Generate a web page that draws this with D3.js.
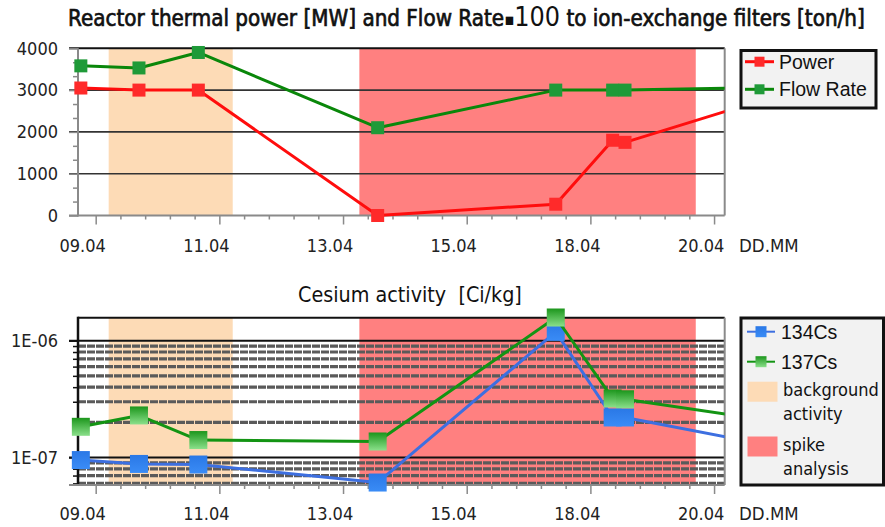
<!DOCTYPE html>
<html>
<head>
<meta charset="utf-8">
<script src="https://cdn.jsdelivr.net/npm/d3@7"></script>
<style>
  body { margin: 0; background: #fff; }
  svg { display: block; }
</style>
</head>
<body>
<svg id="chart" width="885" height="527"></svg>
<script>
// ---- data ----------------------------------------------------------------
// x positions are in axis units: one unit per labelled tick
const tickLabels = ["09.04", "11.04", "13.04", "15.04", "18.04", "20.04"];
const samplePos  = [-0.12, 0.35, 0.83, 2.28, 3.72, 4.18, 4.28, 5.3];
const power      = [3050, 3000, 3000, 0, 270, 1800, 1750, 2680];
const flowRate   = [3580, 3530, 3900, 2100, 3000, 3000, 3000, 3055];
const cs134      = [9.5e-8, 8.8e-8, 8.7e-8, 6.1e-8, 1.19e-6, 2.2e-7, 2.2e-7, 1.36e-7];
const cs137      = [1.83e-7, 2.29e-7, 1.41e-7, 1.37e-7, 1.58e-6, 3.2e-7, 3.15e-7, 2.18e-7];
const bandNames  = ["background activity", "spike analysis"];
const bandFrom   = [0.105, 2.132];
const bandTo     = [1.108, 4.852];
const powerTicks = [0, 1000, 2000, 3000, 4000];
const csTicks    = [1e-7, 1e-6];
const csTickLabels = ["1E-07", "1E-06"];

// ---- layout / style -------------------------------------------------------
const FONT = "'DejaVu Sans Condensed', 'DejaVu Sans', sans-serif";
const ARIAL = "'Liberation Sans', Arial, sans-serif";
const bandColors = ["#fddbb6", "#ff8080"];
const plotL = 78, plotR = 724.7;
const top1 = 48.3, bot1 = 215.5;
const top2 = 317.7, bot2 = 485;
const labelShift = -13.5;   // date labels sit a little left of their ticks

const svg = d3.select("#chart");
const defs = svg.append("defs");

const g137 = defs.append("linearGradient").attr("id", "grad137")
  .attr("x1", 0).attr("y1", 0).attr("x2", 0).attr("y2", 1);
g137.append("stop").attr("offset", "0%").attr("stop-color", "#1c961c");
g137.append("stop").attr("offset", "100%").attr("stop-color", "#8be08b");
const g134 = defs.append("linearGradient").attr("id", "grad134")
  .attr("x1", 0).attr("y1", 0).attr("x2", 0).attr("y2", 1);
g134.append("stop").attr("offset", "0%").attr("stop-color", "#2a78e6");
g134.append("stop").attr("offset", "100%").attr("stop-color", "#3a8cf6");

["clip1", "clip2"].forEach((id, i) => {
  const t = i === 0 ? top1 : top2, b = i === 0 ? bot1 : bot2;
  defs.append("clipPath").attr("id", id).append("rect")
    .attr("x", plotL).attr("y", t - 20).attr("width", plotR - plotL).attr("height", b - t + 40);
});

const x = d3.scaleLinear().domain([-0.143, 5.086]).range([plotL, plotR]);
const y1 = d3.scaleLinear().domain([0, 4000]).range([bot1, top1]);
const y2 = d3.scaleLog().domain([5.81e-8, 1.574e-6]).range([bot2, top2]);

const inDomain = v => v >= x.domain()[0] && v <= x.domain()[1];
const majorX = d3.range(tickLabels.length);
const minorX = d3.range(-1, tickLabels.length + 1, 0.2)
  .map(v => Math.round(v * 10) / 10)
  .filter(v => inDomain(v) && !Number.isInteger(v));

function fitText(sel, width) {
  const w = sel.node().getComputedTextLength();
  const fs = parseFloat(sel.attr("font-size"));
  sel.attr("font-size", fs * width / w);
}

// ---- shared pieces --------------------------------------------------------
function drawBands(g, t, b) {
  bandNames.forEach((n, i) => {
    g.append("rect")
      .attr("x", x(bandFrom[i])).attr("y", t)
      .attr("width", x(bandTo[i]) - x(bandFrom[i])).attr("height", b - t)
      .attr("fill", bandColors[i]);
  });
}

function drawXAxis(g, b, labelBaseline) {
  const minor = g.append("g").attr("transform", `translate(0,${b})`)
    .call(d3.axisBottom(x).tickValues(minorX).tickSize(4).tickFormat(""));
  const major = g.append("g").attr("transform", `translate(0,${b})`)
    .call(d3.axisBottom(x).tickValues(majorX).tickSize(9).tickFormat(i => tickLabels[i]));
  [minor, major].forEach(a => {
    a.select(".domain").remove();
    a.selectAll(".tick line").attr("stroke", "#8a8a8a").attr("stroke-width", 1.5);
  });
  major.selectAll(".tick text")
    .attr("font-family", FONT).attr("font-size", 18).attr("fill", "#222")
    .attr("dy", null).attr("x", labelShift).attr("y", labelBaseline - b);
  g.append("line").attr("x1", plotL - 9).attr("x2", plotR).attr("y1", b).attr("y2", b)
    .attr("stroke", "#8a8a8a").attr("stroke-width", 2);
  g.append("text").attr("x", 739).attr("y", labelBaseline)
    .attr("font-family", FONT).attr("font-size", 18.5).attr("fill", "#222")
    .text("DD.MM");
}

function drawSeries(g, clipId, yScale, vals, lineColor, lineW, markFill, markSize) {
  const pts = samplePos.map((p, i) => [p, vals[i]]);
  g.append("path")
    .attr("clip-path", `url(#${clipId})`)
    .attr("d", d3.line().x(d => x(d[0])).y(d => yScale(d[1]))(pts))
    .attr("fill", "none").attr("stroke", lineColor).attr("stroke-width", lineW)
    .attr("stroke-linejoin", "round");
  g.selectAll(null).data(pts.filter(d => inDomain(d[0]))).join("rect")
    .attr("x", d => x(d[0]) - markSize / 2).attr("y", d => yScale(d[1]) - markSize / 2)
    .attr("width", markSize).attr("height", markSize)
    .attr("fill", markFill);
}

// ---- top chart: reactor power and flow rate -------------------------------
const c1 = svg.append("g");
drawBands(c1, top1, bot1);

// horizontal grid lines
c1.selectAll(null).data(powerTicks.filter(v => v > 0)).join("line")
  .attr("x1", plotL - 9).attr("x2", plotR)
  .attr("y1", d => y1(d)).attr("y2", d => y1(d))
  .attr("stroke", d => d === 4000 ? "#111" : "#333").attr("stroke-width", d => d === 4000 ? 2 : 1.6);

// y axis
const y1Minor = d3.range(0, 4001, 1000 / 3).filter(v => powerTicks.indexOf(Math.round(v)) < 0);
const a1m = c1.append("g").attr("transform", `translate(${plotL},0)`)
  .call(d3.axisLeft(y1).tickValues(y1Minor).tickSize(5).tickFormat(""));
const a1 = c1.append("g").attr("transform", `translate(${plotL},0)`)
  .call(d3.axisLeft(y1).tickValues(powerTicks).tickSize(9).tickPadding(11).tickFormat(d3.format("d")));
[a1m, a1].forEach(a => {
  a.select(".domain").remove();
  a.selectAll(".tick line").attr("stroke", "#8a8a8a").attr("stroke-width", 1.5);
});
a1.selectAll(".tick text").attr("font-family", FONT).attr("font-size", 18).attr("fill", "#222");
c1.append("line").attr("x1", plotL).attr("x2", plotL).attr("y1", top1).attr("y2", bot1 + 1)
  .attr("stroke", "#8a8a8a").attr("stroke-width", 2);
c1.append("line").attr("x1", plotR).attr("x2", plotR).attr("y1", top1).attr("y2", bot1)
  .attr("stroke", "#8a8a8a").attr("stroke-width", 2);

drawXAxis(c1, bot1, 251.5);

drawSeries(c1, "clip1", y1, power, "#ff0d0d", 3, "#ff2a2a", 13);
drawSeries(c1, "clip1", y1, flowRate, "#0a870a", 3, "#1f9a38", 13);

// title
const t1 = svg.append("text").attr("x", 68).attr("y", 26)
  .attr("font-family", FONT).attr("font-size", 19).attr("fill", "#111")
  .attr("stroke", "#111").attr("stroke-width", 0.65);
t1.append("tspan").text("Reactor thermal power [MW] and Flow Rate");
t1.append("tspan").attr("font-size", "0.75em").attr("stroke-width", 0).attr("dy", -1).text("\u25AA");
t1.append("tspan").attr("font-size", "1.2em").attr("stroke-width", 0).attr("dy", 1).text("100");
t1.append("tspan").text(" to ion-exchange filters [ton/h]");
fitText(t1, 797);

// legend
const l1 = svg.append("g");
l1.append("rect").attr("x", 741).attr("y", 50.5).attr("width", 135).attr("height", 57.5)
  .attr("fill", "#f2f2f2").attr("stroke", "#111").attr("stroke-width", 3);
[["Power", "#ff0d0d", "#ff2a2a", 61.7], ["Flow Rate", "#0a870a", "#1f9a38", 89.3]].forEach(([name, lc, mc, yy]) => {
  l1.append("line").attr("x1", 745).attr("x2", 774).attr("y1", yy).attr("y2", yy)
    .attr("stroke", lc).attr("stroke-width", 3);
  l1.append("rect").attr("x", 759.5 - 5).attr("y", yy - 5).attr("width", 10).attr("height", 10).attr("fill", mc);
  l1.append("text").attr("x", 779).attr("y", yy + 7)
    .attr("font-family", ARIAL).attr("font-size", 19.5).attr("fill", "#111").text(name);
});

// ---- bottom chart: cesium activity ----------------------------------------
const c2 = svg.append("g");
drawBands(c2, top2, bot2);

const majorLog = csTicks;
const minorLog = [];
[1e-8, 1e-7].forEach(dec => {
  for (let k = 2; k <= 9; k++) {
    const v = k * dec;
    if (v >= y2.domain()[0] && v <= y2.domain()[1]) minorLog.push(v);
  }
});

c2.selectAll(null).data(minorLog).join("line")
  .attr("x1", plotL).attr("x2", plotR)
  .attr("y1", d => y2(d)).attr("y2", d => y2(d))
  .attr("stroke", "#5a5a5a").attr("stroke-width", 3.2).attr("stroke-dasharray", "8,1");
c2.selectAll(null).data(majorLog).join("line")
  .attr("x1", plotL - 9).attr("x2", plotR)
  .attr("y1", d => y2(d)).attr("y2", d => y2(d))
  .attr("stroke", "#111").attr("stroke-width", 2);

const a2m = c2.append("g").attr("transform", `translate(${plotL},0)`)
  .call(d3.axisLeft(y2).tickValues(minorLog).tickSize(5).tickFormat(""));
const a2 = c2.append("g").attr("transform", `translate(${plotL},0)`)
  .call(d3.axisLeft(y2).tickValues(majorLog).tickSize(9).tickPadding(11)
    .tickFormat(d => csTickLabels[csTicks.indexOf(d)]));
[a2m, a2].forEach(a => {
  a.select(".domain").remove();
  a.selectAll(".tick line").attr("stroke", "#111").attr("stroke-width", 1.5);
});
a2.selectAll(".tick text").attr("font-family", FONT).attr("font-size", 18).attr("fill", "#222");

c2.append("line").attr("x1", plotL).attr("x2", plotR).attr("y1", top2).attr("y2", top2)
  .attr("stroke", "#111").attr("stroke-width", 2);
c2.append("line").attr("x1", plotR).attr("x2", plotR).attr("y1", top2).attr("y2", bot2)
  .attr("stroke", "#8a8a8a").attr("stroke-width", 2);
c2.append("line").attr("x1", plotL).attr("x2", plotL).attr("y1", top2 - 1).attr("y2", bot2 + 1)
  .attr("stroke", "#111").attr("stroke-width", 2.5);

drawXAxis(c2, bot2, 520);

drawSeries(c2, "clip2", y2, cs134, "#3d6fe0", 3, "url(#grad134)", 18);
drawSeries(c2, "clip2", y2, cs137, "#139413", 3, "url(#grad137)", 18);

const t2 = svg.append("text").attr("x", 298).attr("y", 302)
  .attr("font-family", FONT).attr("font-size", 19).attr("fill", "#111")
  .style("white-space", "pre").text("Cesium activity  [Ci/kg]");
fitText(t2, 224);

// legend
const l2 = svg.append("g");
l2.append("rect").attr("x", 741).attr("y", 318).attr("width", 142.5).attr("height", 167)
  .attr("fill", "#f2f2f2").attr("stroke", "#111").attr("stroke-width", 3);
[["134Cs", "#3d6fe0", "url(#grad134)", 331.7], ["137Cs", "#139413", "url(#grad137)", 361.7]].forEach(([name, lc, mc, yy]) => {
  l2.append("line").attr("x1", 747).attr("x2", 775).attr("y1", yy).attr("y2", yy)
    .attr("stroke", lc).attr("stroke-width", 2);
  l2.append("rect").attr("x", 761 - 5.5).attr("y", yy - 5.5).attr("width", 11).attr("height", 11).attr("fill", mc);
  l2.append("text").attr("x", 781).attr("y", yy + 7)
    .attr("font-family", ARIAL).attr("font-size", 19.5).attr("fill", "#111").text(name);
});
[[381.7, ["background", "activity"]], [436.5, ["spike", "analysis"]]].forEach(([yy, lines], i) => {
  l2.append("rect").attr("x", 747.5).attr("y", yy).attr("width", 30).attr("height", 20)
    .attr("fill", bandColors[i]);
  lines.forEach((s, j) => {
    l2.append("text").attr("x", 783).attr("y", yy + 14.5 + j * 24)
      .attr("font-family", FONT).attr("font-size", 18).attr("fill", "#111").text(s);
  });
});
</script>
</body>
</html>
